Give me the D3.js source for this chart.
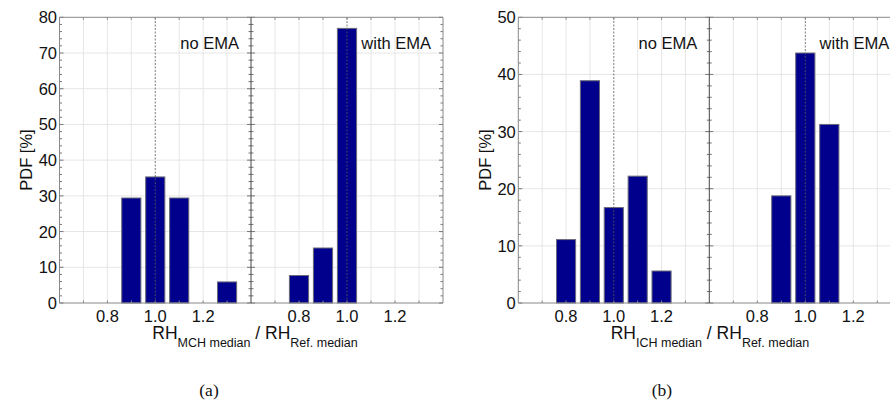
<!DOCTYPE html>
<html>
<head>
<meta charset="utf-8">
<script src="https://cdn.jsdelivr.net/npm/d3@7"></script>
<style>
  html, body { margin: 0; padding: 0; background: #fff; }
  svg { display: block; }
  text { font-family: "Liberation Sans", Arial, sans-serif; fill: #111; }
</style>
</head>
<body>
<svg id="chart" width="890" height="402"></svg>
<script>
// ---- data ----
const panelLabels = ["no EMA", "with EMA"];
const xTicks = [0.8, 1.0, 1.2];
const xGrid = [0.7, 0.8, 0.9, 1.0, 1.1, 1.2, 1.3];
const aYTicks = [0, 10, 20, 30, 40, 50, 60, 70, 80];
const bYTicks = [0, 10, 20, 30, 40, 50];

const aNoEmaX = [0.9, 1.0, 1.1, 1.3];
const aNoEmaY = [29.4, 35.3, 29.4, 5.9];
const aWithEmaX = [0.8, 0.9, 1.0];
const aWithEmaY = [7.7, 15.4, 76.9];

const bNoEmaX = [0.8, 0.9, 1.0, 1.1, 1.2];
const bNoEmaY = [11.1, 38.9, 16.7, 22.2, 5.6];
const bWithEmaX = [0.9, 1.0, 1.1];
const bWithEmaY = [18.75, 43.75, 31.25];

const aXLabel = ["RH", "MCH median", " / RH", "Ref. median"];
const bXLabel = ["RH", "ICH median", " / RH", "Ref. median"];
const yLabel = "PDF [%]";
const captions = ["(a)", "(b)"];

// ---- drawing ----
const svg = d3.select("#chart");
const barColor = "#00008c";
const barWidth = 0.08;

function drawChart(cfg) {
  const g = svg.append("g");
  const y = d3.scaleLinear().domain([0, cfg.yMax]).range([303, 17.3]);
  const x0 = d3.scaleLinear().domain([0.6, 1.4]).range([cfg.left, cfg.mid]);
  const x1 = d3.scaleLinear().domain([0.6, 1.4]).range([cfg.mid, cfg.right]);
  const subs = [
    { x: x0, xs: cfg.s0x, ys: cfg.s0y, label: panelLabels[0] },
    { x: x1, xs: cfg.s1x, ys: cfg.s1y, label: panelLabels[1] }
  ];
  const yMinor = d3.range(0, cfg.yMax + 0.001, 2);

  // horizontal grid
  g.selectAll(".hg").data(cfg.yTicks.filter(d => d > 0 && d < cfg.yMax)).join("line")
    .attr("x1", cfg.left).attr("x2", cfg.right)
    .attr("y1", d => y(d)).attr("y2", d => y(d))
    .attr("stroke", "#e6e6e6").attr("stroke-width", 1);

  subs.forEach(s => {
    const sg = g.append("g");
    // vertical grid
    sg.selectAll(".vg").data(xGrid.filter(d => d !== 1.0)).join("line")
      .attr("x1", d => s.x(d)).attr("x2", d => s.x(d))
      .attr("y1", y(0)).attr("y2", y(cfg.yMax))
      .attr("stroke", "#e6e6e6").attr("stroke-width", 1);
    // bars
    const data = s.xs.map((v, i) => ({ x: v, y: s.ys[i] }));
    sg.selectAll("rect").data(data).join("rect")
      .attr("x", d => s.x(d.x - barWidth / 2))
      .attr("width", d => s.x(d.x + barWidth / 2) - s.x(d.x - barWidth / 2))
      .attr("y", d => y(d.y))
      .attr("height", d => y(0) - y(d.y))
      .attr("fill", barColor)
      .attr("stroke", "#6a6a7a").attr("stroke-width", 1);
    // dotted reference at 1.0
    sg.append("line")
      .attr("x1", s.x(1.0)).attr("x2", s.x(1.0))
      .attr("y1", y(0)).attr("y2", y(cfg.yMax))
      .attr("stroke", "#555").attr("stroke-width", 0.8)
      .attr("stroke-dasharray", "2,1.5");
    // bottom/top small ticks
    sg.selectAll(".bt").data(xGrid).join("line")
      .attr("x1", d => s.x(d)).attr("x2", d => s.x(d))
      .attr("y1", y(0)).attr("y2", y(0) - 2.5)
      .attr("stroke", "#888");
    sg.selectAll(".tt").data(xGrid).join("line")
      .attr("x1", d => s.x(d)).attr("x2", d => s.x(d))
      .attr("y1", y(cfg.yMax)).attr("y2", y(cfg.yMax) + 2.5)
      .attr("stroke", "#888");
    // x tick labels
    sg.selectAll(".xl").data(xTicks).join("text")
      .attr("x", d => s.x(d)).attr("y", 321.5)
      .attr("text-anchor", "middle")
      .attr("font-size", "16.5px")
      .text(d => d3.format(".1f")(d));
    // panel label
    sg.append("text")
      .attr("x", s.x(1.4) - 12).attr("y", 49)
      .attr("text-anchor", "end")
      .attr("font-size", "16.5px")
      .text(s.label);
  });

  // y minor / major ticks on left, divider and right
  [cfg.left, cfg.mid, cfg.right].forEach((px, k) => {
    g.selectAll(null).data(yMinor).join("line")
      .attr("x1", px)
      .attr("x2", d => {
        const len = cfg.yTicks.includes(d) ? 4 : 2.5;
        return k === 2 ? px - len : px + len;
      })
      .attr("y1", d => y(d)).attr("y2", d => y(d))
      .attr("stroke", "#777");
    if (k === 1) {
      g.selectAll(null).data(yMinor).join("line")
        .attr("x1", px)
        .attr("x2", d => px - (cfg.yTicks.includes(d) ? 4 : 2.5))
        .attr("y1", d => y(d)).attr("y2", d => y(d))
        .attr("stroke", "#777");
    }
  });

  // frame
  g.append("line").attr("x1", cfg.left).attr("x2", cfg.right)
    .attr("y1", y(0)).attr("y2", y(0)).attr("stroke", "#888");
  g.append("line").attr("x1", cfg.left).attr("x2", cfg.right)
    .attr("y1", y(cfg.yMax)).attr("y2", y(cfg.yMax)).attr("stroke", "#888");
  g.append("line").attr("x1", cfg.left).attr("x2", cfg.left)
    .attr("y1", y(0)).attr("y2", y(cfg.yMax)).attr("stroke", "#888");
  g.append("line").attr("x1", cfg.right).attr("x2", cfg.right)
    .attr("y1", y(0)).attr("y2", y(cfg.yMax)).attr("stroke", "#888");
  g.append("line").attr("x1", cfg.mid).attr("x2", cfg.mid)
    .attr("y1", y(0)).attr("y2", y(cfg.yMax)).attr("stroke", "#444");

  // y tick labels
  g.selectAll(".yl").data(cfg.yTicks).join("text")
    .attr("x", cfg.left - 2.5).attr("y", d => y(d))
    .attr("dy", "0.36em")
    .attr("text-anchor", "end")
    .attr("font-size", "16.5px")
    .text(d => d);

  // y axis label
  g.append("text")
    .attr("transform", `translate(${cfg.yLabelX},160) rotate(-90)`)
    .attr("text-anchor", "middle")
    .attr("font-size", "16.5px")
    .text(yLabel);

  // x axis label with subscripts
  const t = g.append("text")
    .attr("x", cfg.xLabelX).attr("y", 338.5)
    .attr("text-anchor", "middle")
    .attr("font-size", "17.5px");
  t.append("tspan").text(cfg.xLabel[0]);
  t.append("tspan").attr("dy", 8).attr("font-size", "12.5px").text(cfg.xLabel[1]);
  t.append("tspan").attr("dy", -8).text(cfg.xLabel[2]);
  t.append("tspan").attr("dy", 8).attr("font-size", "12.5px").text(cfg.xLabel[3]);

  // caption
  svg.append("text")
    .attr("x", cfg.captionX).attr("y", 396)
    .attr("text-anchor", "middle")
    .attr("font-size", "17.5px")
    .style("font-family", "'Liberation Serif', 'Times New Roman', serif")
    .text(cfg.caption);
}

drawChart({
  left: 59.5, mid: 251, right: 443, yMax: 80, yTicks: aYTicks,
  s0x: aNoEmaX, s0y: aNoEmaY, s1x: aWithEmaX, s1y: aWithEmaY,
  yLabelX: 32, xLabelX: 255, xLabel: aXLabel, captionX: 209, caption: captions[0]
});
drawChart({
  left: 518.3, mid: 709.3, right: 901.3, yMax: 50, yTicks: bYTicks,
  s0x: bNoEmaX, s0y: bNoEmaY, s1x: bWithEmaX, s1y: bWithEmaY,
  yLabelX: 491, xLabelX: 710, xLabel: bXLabel, captionX: 662, caption: captions[1]
});
</script>
</body>
</html>
